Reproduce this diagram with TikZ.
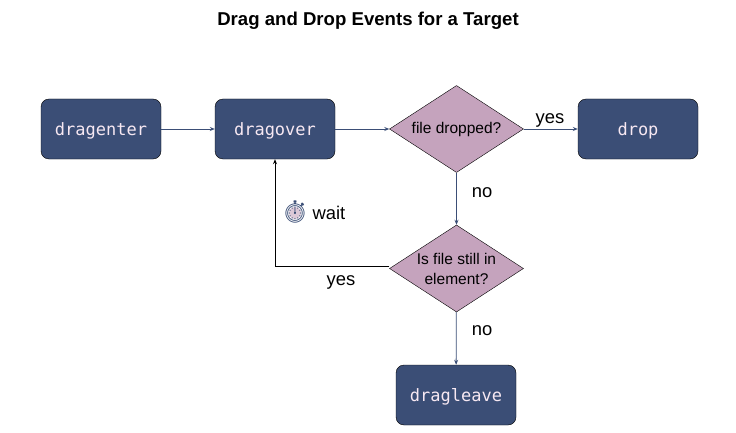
\documentclass[tikz,border=0pt]{standalone}
\usepackage{fontspec}
\setmainfont{Liberation Sans}
\setmonofont{DejaVu Sans Mono}
\newfontfamily\emojifont{Noto Emoji}
\usetikzlibrary{shapes.geometric,arrows.meta}
\definecolor{boxblue}{HTML}{3B4E76}
\definecolor{boxpink}{HTML}{C5A3BD}
\definecolor{boxtext}{HTML}{F7E8F2}
\newcommand{\evtext}[1]{\raisebox{-6.5pt}[0pt][0pt]{#1}}
\tikzset{
  event/.style={draw=black,fill=boxblue,rounded corners=8pt,minimum width=120pt,minimum height=60pt,
    inner sep=0pt,text=boxtext,font=\ttfamily\fontsize{17}{20}\selectfont},
  check/.style={draw=black,fill=boxpink,diamond,aspect=1.55,minimum width=134pt,minimum height=87pt,
    inner sep=0pt,align=center,font=\fontsize{15.5}{20}\selectfont},
  label/.style={font=\fontsize{18.4}{20}\selectfont},
  link/.style={draw=boxblue,line width=0.8pt,-{Stealth[length=5pt,width=4pt]}},
}
\begin{document}
\begin{tikzpicture}[x=1pt,y=-1pt]
  \useasboundingbox (0,0) rectangle (736,433);
  \node[font=\bfseries\fontsize{18.6}{20}\selectfont] (title) at (368,21) {Drag and Drop Events for a Target};
  \draw
    (101,129) node[event] (enter){\evtext{dragenter}}
    (275,129) node[event] (over){\evtext{dragover}}
    (638,129) node[event] (drop){\evtext{drop}}
    (456,395) node[event] (leave){\evtext{dragleave}}
    (456.5,129) node[check] (dropped){file dropped?}
    (456.5,268.5) node[check] (still){Is file still in\\element?};
  \begin{scope}[link]
    \draw (enter) to (over);
    \draw (over) to (dropped);
    \draw (dropped) to (drop);
    \draw (dropped) to (still);
    \draw (still) to (leave);
    \draw[draw=black] ([yshift=2pt]still.west) -| (over.south);
  \end{scope}
  \node[label] (yes1) at (550,120) {yes};
  \node[label] (no1) at (482,193) {no};
  \node[label] (no2) at (482,331) {no};
  \node[label] (yes2) at (341,282) {yes};
  \node[label] (wait) at (329,213) {wait};
  \node[circle,fill=boxpink!60,minimum size=12pt,inner sep=0pt] (face) at (295,213) {};
  \node[font=\emojifont\fontsize{22}{24}\selectfont,text=boxblue] (clock) at (295,212) {^^^^23f1};
\end{tikzpicture}
\end{document}
